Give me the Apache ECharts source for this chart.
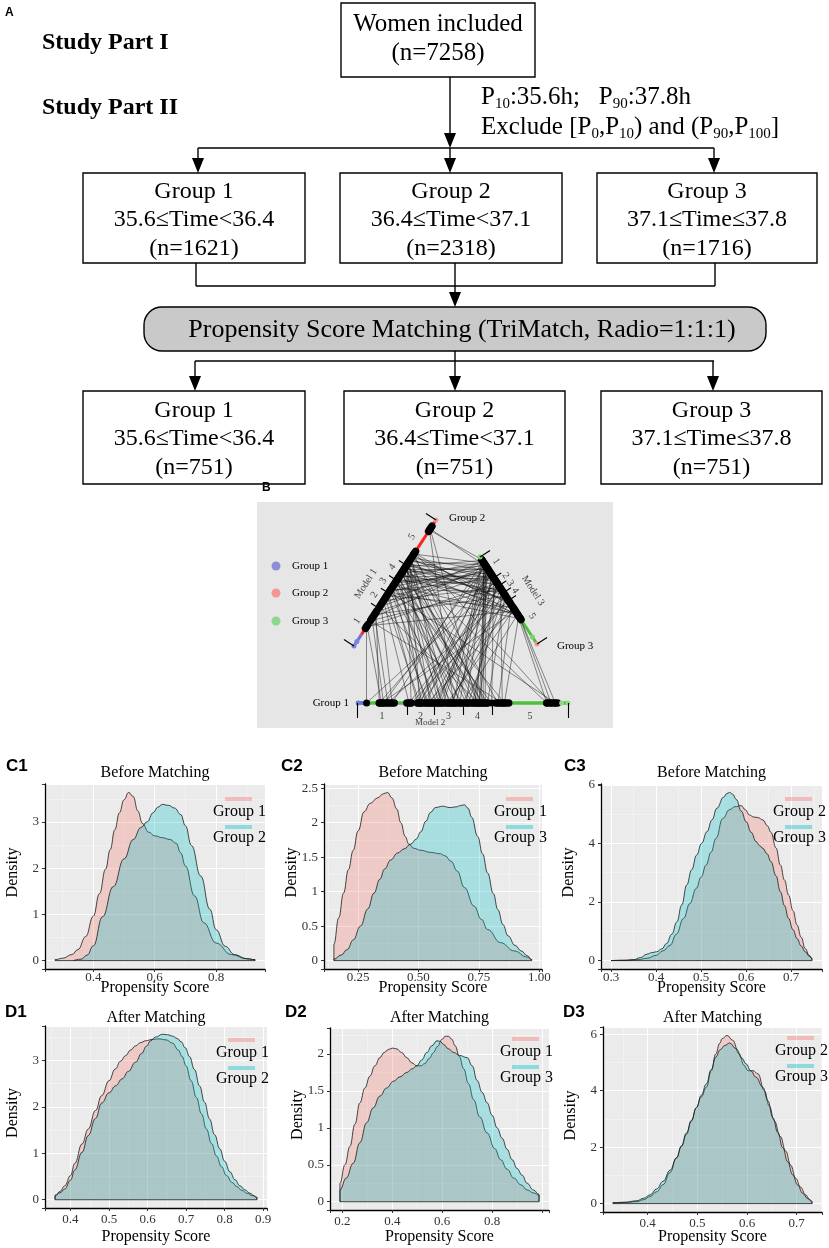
<!DOCTYPE html>
<html>
<head>
<meta charset="utf-8">
<title>Propensity score matching figure</title>
<script src="https://cdn.jsdelivr.net/npm/echarts@6/dist/echarts.min.js"></script>
<style>
html,body{margin:0;padding:0;background:#ffffff;}
#main{width:829px;height:1248px;}
</style>
</head>
<body>
<div id="main"></div>
<script>
// ================= DATA =================
// Panel A – flow chart
const flowTotal = 7258;
const flowGroups = ['Group 1', 'Group 2', 'Group 3'];
const flowTimeRanges = ['35.6≤Time<36.4', '36.4≤Time<37.1', '37.1≤Time≤37.8'];
const flowNBefore = [1621, 2318, 1716];
const flowNAfter = [751, 751, 751];
const flowMatching = 'Propensity Score Matching (TriMatch, Radio=1:1:1)';

// Panels C / D – density curves [propensity score, density]
const c1Group1 = [[0.275,0.02],[0.30,0.05],[0.33,0.13],[0.35,0.24],[0.375,0.52],[0.40,0.96],[0.42,1.45],[0.44,1.98],[0.455,2.4],[0.47,2.83],[0.485,3.2],[0.50,3.48],[0.515,3.64],[0.53,3.55],[0.545,3.24],[0.56,2.97],[0.58,2.78],[0.60,2.7],[0.625,2.66],[0.65,2.62],[0.67,2.54],[0.685,2.33],[0.70,2.05],[0.73,1.4],[0.76,0.82],[0.80,0.38],[0.85,0.13],[0.90,0.04],[0.927,0.02]];
const c1Group2 = [[0.335,0.01],[0.36,0.03],[0.38,0.12],[0.40,0.32],[0.43,0.95],[0.465,1.6],[0.50,2.2],[0.53,2.62],[0.555,2.88],[0.575,3.0],[0.595,3.2],[0.61,3.32],[0.625,3.38],[0.645,3.36],[0.665,3.3],[0.685,3.16],[0.70,2.92],[0.72,2.49],[0.75,1.83],[0.78,1.11],[0.80,0.67],[0.83,0.31],[0.86,0.13],[0.90,0.04],[0.927,0.02]];
const c2Group1 = [[0.15,0.24],[0.17,0.62],[0.19,0.98],[0.21,1.32],[0.23,1.6],[0.25,1.88],[0.275,2.16],[0.30,2.28],[0.33,2.36],[0.355,2.42],[0.372,2.44],[0.39,2.36],[0.41,2.2],[0.427,2.0],[0.445,1.8],[0.46,1.69],[0.48,1.63],[0.51,1.6],[0.55,1.57],[0.59,1.55],[0.61,1.52],[0.635,1.44],[0.66,1.3],[0.69,1.06],[0.73,0.79],[0.76,0.6],[0.786,0.45],[0.84,0.26],[0.896,0.14],[0.95,0.05],[0.97,0.01]];
const c2Group3 = [[0.15,0.02],[0.18,0.08],[0.205,0.16],[0.23,0.3],[0.26,0.5],[0.29,0.75],[0.316,0.98],[0.34,1.18],[0.36,1.33],[0.385,1.46],[0.413,1.56],[0.44,1.62],[0.468,1.69],[0.49,1.76],[0.51,1.87],[0.53,2.02],[0.55,2.15],[0.57,2.22],[0.60,2.24],[0.63,2.22],[0.655,2.23],[0.675,2.25],[0.69,2.26],[0.705,2.21],[0.72,2.08],[0.745,1.8],[0.765,1.55],[0.786,1.27],[0.81,0.97],[0.828,0.74],[0.85,0.52],[0.87,0.36],[0.90,0.22],[0.925,0.14],[0.95,0.07],[0.97,0.01]];
const c3Group2 = [[0.30,0.0],[0.33,0.01],[0.36,0.03],[0.38,0.08],[0.40,0.18],[0.415,0.33],[0.431,0.52],[0.445,0.9],[0.461,1.44],[0.475,1.95],[0.489,2.46],[0.50,2.85],[0.511,3.26],[0.522,3.7],[0.533,4.17],[0.548,4.85],[0.563,5.15],[0.575,5.25],[0.589,5.29],[0.598,5.15],[0.607,4.97],[0.617,4.9],[0.626,4.88],[0.637,4.8],[0.647,4.6],[0.655,4.38],[0.666,3.85],[0.676,3.26],[0.685,2.75],[0.694,2.24],[0.704,1.7],[0.713,1.21],[0.722,0.8],[0.731,0.41],[0.74,0.18],[0.746,0.07]];
const c3Group3 = [[0.30,0.0],[0.33,0.01],[0.35,0.03],[0.365,0.1],[0.38,0.22],[0.39,0.27],[0.401,0.3],[0.413,0.4],[0.423,0.58],[0.435,0.9],[0.446,1.32],[0.457,1.9],[0.468,2.58],[0.479,3.1],[0.49,3.6],[0.501,4.0],[0.513,4.4],[0.524,4.8],[0.535,5.2],[0.55,5.58],[0.557,5.7],[0.563,5.74],[0.57,5.68],[0.578,5.5],[0.589,5.1],[0.60,4.74],[0.611,4.38],[0.622,4.06],[0.63,3.92],[0.637,3.83],[0.646,3.65],[0.655,3.38],[0.666,2.9],[0.676,2.35],[0.685,1.88],[0.694,1.44],[0.704,1.05],[0.713,0.75],[0.722,0.5],[0.731,0.3],[0.74,0.15],[0.746,0.07]];
const d1Group1 = [[0.36,0.08],[0.373,0.18],[0.385,0.3],[0.40,0.52],[0.411,0.78],[0.43,1.2],[0.446,1.52],[0.465,1.92],[0.481,2.24],[0.50,2.56],[0.516,2.81],[0.53,2.98],[0.543,3.1],[0.556,3.22],[0.569,3.31],[0.582,3.38],[0.595,3.42],[0.613,3.45],[0.63,3.46],[0.648,3.44],[0.665,3.37],[0.68,3.22],[0.69,3.08],[0.70,2.88],[0.713,2.56],[0.727,2.2],[0.74,1.85],[0.753,1.52],[0.766,1.21],[0.779,0.94],[0.792,0.71],[0.805,0.52],[0.82,0.37],[0.832,0.28],[0.845,0.2],[0.858,0.14],[0.872,0.09],[0.884,0.05]];
const d1Group2 = [[0.36,0.1],[0.373,0.15],[0.385,0.23],[0.40,0.42],[0.411,0.64],[0.43,1.02],[0.446,1.38],[0.465,1.75],[0.481,2.08],[0.50,2.3],[0.517,2.45],[0.534,2.6],[0.55,2.76],[0.569,2.96],[0.585,3.15],[0.597,3.3],[0.608,3.42],[0.621,3.5],[0.639,3.56],[0.652,3.55],[0.665,3.52],[0.677,3.47],[0.687,3.4],[0.698,3.27],[0.709,3.08],[0.722,2.8],[0.735,2.45],[0.748,2.1],[0.761,1.74],[0.774,1.4],[0.788,1.09],[0.80,0.83],[0.814,0.6],[0.827,0.43],[0.84,0.3],[0.853,0.21],[0.866,0.14],[0.876,0.09],[0.884,0.05]];
const d2Group1 = [[0.19,0.25],[0.21,0.5],[0.23,0.75],[0.25,1.05],[0.27,1.34],[0.29,1.54],[0.31,1.7],[0.33,1.84],[0.35,1.95],[0.367,2.02],[0.384,2.06],[0.40,2.08],[0.417,2.07],[0.437,2.02],[0.458,1.95],[0.478,1.88],[0.498,1.84],[0.515,1.84],[0.53,1.87],[0.548,1.94],[0.565,2.02],[0.58,2.1],[0.60,2.2],[0.612,2.24],[0.625,2.24],[0.638,2.2],[0.652,2.11],[0.668,1.97],[0.686,1.8],[0.705,1.6],[0.726,1.38],[0.75,1.15],[0.78,0.93],[0.81,0.72],[0.834,0.57],[0.86,0.44],[0.887,0.32],[0.915,0.23],[0.94,0.16],[0.965,0.12],[0.988,0.09]];
const d2Group3 = [[0.19,0.16],[0.215,0.32],[0.243,0.52],[0.27,0.8],[0.297,1.07],[0.323,1.27],[0.35,1.43],[0.377,1.54],[0.404,1.63],[0.43,1.69],[0.458,1.75],[0.48,1.8],[0.498,1.84],[0.518,1.92],[0.538,2.02],[0.558,2.11],[0.579,2.18],[0.592,2.17],[0.605,2.13],[0.625,2.07],[0.646,2.02],[0.67,1.98],[0.70,1.95],[0.72,1.84],[0.74,1.64],[0.76,1.48],[0.78,1.34],[0.80,1.17],[0.82,1.0],[0.84,0.86],[0.86,0.71],[0.88,0.57],[0.90,0.45],[0.92,0.36],[0.94,0.25],[0.965,0.16],[0.988,0.1]];
const d3Group2 = [[0.33,0.03],[0.355,0.04],[0.378,0.07],[0.392,0.14],[0.405,0.25],[0.418,0.42],[0.431,0.67],[0.445,1.1],[0.458,1.62],[0.468,2.02],[0.478,2.45],[0.488,2.92],[0.498,3.4],[0.508,3.78],[0.518,4.12],[0.528,4.7],[0.537,5.3],[0.545,5.68],[0.55,5.85],[0.56,5.96],[0.571,5.79],[0.584,5.31],[0.594,4.9],[0.602,4.71],[0.612,4.71],[0.622,4.6],[0.635,4.0],[0.645,3.45],[0.655,2.93],[0.667,2.38],[0.678,1.86],[0.688,1.36],[0.698,0.9],[0.708,0.58],[0.718,0.31],[0.726,0.15],[0.731,0.07]];
const d3Group3 = [[0.33,0.03],[0.355,0.05],[0.378,0.1],[0.392,0.19],[0.405,0.31],[0.418,0.52],[0.431,0.79],[0.445,1.18],[0.458,1.62],[0.468,2.05],[0.478,2.5],[0.488,2.95],[0.498,3.4],[0.508,3.84],[0.518,4.24],[0.528,4.75],[0.537,5.19],[0.546,5.45],[0.555,5.6],[0.565,5.69],[0.578,5.49],[0.59,5.15],[0.598,4.95],[0.608,4.7],[0.618,4.48],[0.632,4.12],[0.642,3.65],[0.652,3.05],[0.662,2.52],[0.672,1.98],[0.682,1.48],[0.692,1.02],[0.702,0.66],[0.712,0.37],[0.722,0.18],[0.731,0.07]];

// Panel B – TriMatch plot: positions along Model 1 / Model 2 / Model 3 axes (0..1)
const tmTriplets = [
  [0.15,0.05,0.30],[0.16,0.12,0.62],[0.22,0.13,0.10],[0.25,0.15,0.45],[0.27,0.11,0.20],[0.33,0.17,0.05],
  [0.36,0.25,0.35],[0.38,0.30,0.15],[0.40,0.34,0.58],[0.42,0.29,0.08],[0.44,0.38,0.25],[0.45,0.45,0.40],
  [0.47,0.33,0.12],[0.48,0.50,0.66],[0.50,0.41,0.18],[0.51,0.55,0.30],[0.53,0.36,0.48],[0.54,0.60,0.06],
  [0.55,0.47,0.22],[0.56,0.31,0.38],[0.58,0.52,0.10],[0.59,0.43,0.60],[0.60,0.58,0.28],[0.61,0.39,0.14],
  [0.62,0.62,0.44],[0.63,0.49,0.04],[0.64,0.35,0.33],[0.65,0.56,0.20],[0.66,0.44,0.52],[0.67,0.61,0.09],
  [0.68,0.30,0.26],[0.69,0.53,0.42],[0.70,0.40,0.16],[0.72,0.67,0.55],[0.73,0.59,0.07],[0.74,0.92,0.70],
  [0.20,0.69,0.36],[0.57,0.70,0.68],[0.43,0.94,0.71],[0.31,0.58,0.13],[0.65,0.26,0.50],[0.52,0.64,0.24],
  [0.62,0.90,0.66],[0.93,0.57,0.11],[0.92,0.46,0.03]
];
const tmClustersM1 = [[0.14,0.17],[0.21,0.28],[0.32,0.70],[0.72,0.75],[0.91,0.95]];
const tmClustersM2 = [[0.05,0.05],[0.11,0.18],[0.24,0.26],[0.29,0.62],[0.66,0.72],[0.90,0.95]];
const tmClustersM3 = [[0.03,0.53],[0.57,0.72]];
const tmBreaksM1 = [0, 0.30, 0.42, 0.52, 0.64, 1];
const tmBreaksM2 = [0.005, 0.24, 0.368, 0.505, 0.642, 1];
const tmBreaksM3 = [0, 0.24, 0.33, 0.41, 0.50, 1];
const tmStrata = ['1', '2', '3', '4', '5'];
const tmGroups = ['Group 1', 'Group 2', 'Group 3'];

// ================= LAYOUT / STYLE =================
const SERIF = 'Liberation Serif';
const SANS = 'Liberation Sans';
const PINK_FILL = 'rgba(248,118,109,0.4)';
const CYAN_FILL = 'rgba(0,191,196,0.4)';
const OUTLINE = '#1a1a1a';

const densityPanels = [
  {tag:'C1', tagX:6,   row:'C', title:'Before Matching', curves:[c1Group1,c1Group2], names:['Group 1','Group 2'], xStep:0.2,  xDigits:1, yStep:1,   rect:[45,784,220,185],  legX:225, legY:799},
  {tag:'C2', tagX:281, row:'C', title:'Before Matching', curves:[c2Group1,c2Group3], names:['Group 1','Group 3'], xStep:0.25, xDigits:2, yStep:0.5, rect:[324,784,218,185], legX:506, legY:799},
  {tag:'C3', tagX:564, row:'C', title:'Before Matching', curves:[c3Group2,c3Group3], names:['Group 2','Group 3'], xStep:0.1,  xDigits:1, yStep:2,   rect:[601,784,221,185], legX:785, legY:799},
  {tag:'D1', tagX:5,   row:'D', title:'After Matching',  curves:[d1Group1,d1Group2], names:['Group 1','Group 2'], xStep:0.1,  xDigits:1, yStep:1,   rect:[45,1026,222,182], legX:228, legY:1040},
  {tag:'D2', tagX:285, row:'D', title:'After Matching',  curves:[d2Group1,d2Group3], names:['Group 1','Group 3'], xStep:0.2,  xDigits:1, yStep:0.5, rect:[330,1028,219,182], legX:512, legY:1039, xLabelMax:0.9},
  {tag:'D3', tagX:563, row:'D', title:'After Matching',  curves:[d3Group2,d3Group3], names:['Group 2','Group 3'], xStep:0.1,  xDigits:1, yStep:2,   rect:[603,1027,219,185], legX:787, legY:1038}
];
const rowY = {
  C: {tag:766, title:773, xName:988},
  D: {tag:1012, title:1018, xName:1237}
};

function limits(curves) {
  let xs = [], ys = [];
  curves.forEach(c => c.forEach(p => { xs.push(p[0]); ys.push(p[1]); }));
  const x0 = Math.min(...xs), x1 = Math.max(...xs), ym = Math.max(...ys);
  const dx = (x1 - x0) * 0.05;
  return {xmin: x0 - dx, xmax: x1 + dx, ymin: -0.05 * ym, ymax: ym * 1.05, x0: x0, x1: x1};
}
function isStep(v, step) { const r = v / step; return Math.abs(r - Math.round(r)) < 1e-6; }

const G = [];
function T(x, y, text, size, o) {
  o = o || {};
  const st = {text: text, fontSize: size, fontFamily: o.family || SERIF, fontWeight: o.weight || 'normal',
    fill: o.color || '#000', align: o.align || 'center', verticalAlign: 'middle',
    textAlign: o.align || 'center', textVerticalAlign: 'middle'};
  if (o.rich) st.rich = o.rich;
  return {type: 'text', x: x, y: y, rotation: o.rot || 0, z: 100, silent: true, style: st};
}
function L(x1, y1, x2, y2, w) {
  return {type: 'line', silent: true, z: 90, shape: {x1: x1, y1: y1, x2: x2, y2: y2}, style: {stroke: '#000', lineWidth: w || 1.4}};
}
function Arrow(x, tip) {
  return {type: 'polygon', silent: true, z: 91, shape: {points: [[x - 6, tip - 15], [x + 6, tip - 15], [x, tip]]}, style: {fill: '#000'}};
}
function Box(x, y, w, h, r, fill) {
  return {type: 'rect', silent: true, z: 90, shape: {x: x, y: y, width: w, height: h, r: r || 0}, style: {fill: fill || '#fff', stroke: '#000', lineWidth: 1.4}};
}

// ---------- Panel A ----------
G.push(T(5, 13, 'A', 12, {family: SANS, weight: 'bold', align: 'left'}));
G.push(T(42, 43, 'Study Part I', 24, {weight: 'bold', align: 'left'}));
G.push(T(42, 108, 'Study Part II', 24, {weight: 'bold', align: 'left'}));
G.push(Box(341, 3, 194, 74));
G.push(T(438, 24, 'Women included', 25));
G.push(T(438, 53, '(n=' + flowTotal + ')', 25));
G.push(L(450, 77, 450, 140)); G.push(Arrow(450, 148));
const RICH = {a: {fontFamily: SERIF, fontSize: 25, lineHeight: 30}, s: {fontFamily: SERIF, fontSize: 15, lineHeight: 14, verticalAlign: 'bottom'}};
G.push(T(481, 97, '{a|P}{s|10}{a|:35.6h;   P}{s|90}{a|:37.8h}', 25, {align: 'left', rich: RICH}));
G.push(T(481, 127, '{a|Exclude [P}{s|0}{a|,P}{s|10}{a|) and (P}{s|90}{a|,P}{s|100}{a|]}', 25, {align: 'left', rich: RICH}));
G.push(L(198, 148, 714, 148));
[198, 450, 714].forEach(x => { G.push(L(x, 148, x, 165)); G.push(Arrow(x, 173)); });
const row1Boxes = [[83, 222], [340, 222], [597, 220]];
row1Boxes.forEach((b, i) => {
  G.push(Box(b[0], 173, b[1], 90));
  const cx = b[0] + b[1] / 2;
  G.push(T(cx, 192, flowGroups[i], 24));
  G.push(T(cx, 220, flowTimeRanges[i], 24));
  G.push(T(cx, 249, '(n=' + flowNBefore[i] + ')', 24));
});
[196, 455, 715].forEach(x => G.push(L(x, 263, x, 286)));
G.push(L(196, 286, 715, 286));
G.push(L(455, 286, 455, 300)); G.push(Arrow(455, 307));
G.push(Box(144, 307, 622, 44, 18, '#c9c9c9'));
G.push(T(462, 330, flowMatching, 26));
G.push(L(455, 351, 455, 361));
G.push(L(195, 361, 714, 361));
[195, 455, 713].forEach(x => { G.push(L(x, 361, x, 380)); G.push(Arrow(x, 391)); });
const row2Boxes = [[83, 222], [344, 221], [601, 221]];
row2Boxes.forEach((b, i) => {
  G.push(Box(b[0], 391, b[1], 93));
  const cx = b[0] + b[1] / 2;
  G.push(T(cx, 411, flowGroups[i], 24));
  G.push(T(cx, 439, flowTimeRanges[i], 24));
  G.push(T(cx, 468, '(n=' + flowNAfter[i] + ')', 24));
});

// ---------- Density panels ----------
const grids = [], xAxes = [], yAxes = [], series = [];
densityPanels.forEach((p, i) => {
  const lim = limits(p.curves);
  const R = rowY[p.row];
  const [gx, gy, gw, gh] = p.rect;
  grids.push({left: gx, top: gy, width: gw, height: gh, show: true, backgroundColor: '#ebebeb', borderWidth: 0, containLabel: false});
  xAxes.push({
    type: 'value', gridIndex: i, min: lim.xmin, max: lim.xmax,
    minInterval: p.xStep, maxInterval: p.xStep,
    axisLine: {show: true, onZero: false, lineStyle: {color: '#000', width: 1.3}},
    axisTick: {show: true, length: 3, lineStyle: {color: '#333', width: 1}},
    axisLabel: {show: true, margin: p.row === 'C' ? 2 : 5, color: '#333', fontSize: 13, fontFamily: SERIF,
      formatter: v => (isStep(v, p.xStep) && (!p.xLabelMax || v <= p.xLabelMax)) ? v.toFixed(p.xDigits) : ''},
    splitLine: {show: true, lineStyle: {color: '#ffffff', width: 1.1}},
    minorTick: {show: false, splitNumber: 2},
    minorSplitLine: {show: true, lineStyle: {color: '#f7f7f7', width: 0.6}}
  });
  yAxes.push({
    type: 'value', gridIndex: i, min: lim.ymin, max: lim.ymax,
    minInterval: p.yStep, maxInterval: p.yStep,
    axisLine: {show: true, onZero: false, lineStyle: {color: '#000', width: 1.3}},
    axisTick: {show: true, length: 3, lineStyle: {color: '#333', width: 1}},
    axisLabel: {show: true, margin: 6, color: '#333', fontSize: 13, fontFamily: SERIF,
      formatter: v => isStep(v, p.yStep) ? String(+v.toFixed(2)) : ''},
    splitLine: {show: true, lineStyle: {color: '#ffffff', width: 1.1}},
    minorTick: {show: false, splitNumber: 2},
    minorSplitLine: {show: true, lineStyle: {color: '#f7f7f7', width: 0.6}}
  });
  p.curves.forEach((c, j) => {
    const data = [[c[0][0], 0]].concat(c).concat([[c[c.length - 1][0], 0]]);
    series.push({
      type: 'line', name: p.tag + ' ' + p.names[j], xAxisIndex: i, yAxisIndex: i, data: data,
      symbol: 'none', smooth: 0.45, smoothMonotone: 'x', silent: true, z: 2 + j,
      lineStyle: {color: OUTLINE, width: 0.8},
      areaStyle: {color: j === 0 ? PINK_FILL : CYAN_FILL}
    });
  });
  series.push({type: 'line', xAxisIndex: i, yAxisIndex: i, data: [[lim.x0, 0], [lim.x1, 0]], symbol: 'none', silent: true, z: 5,
    lineStyle: {color: OUTLINE, width: 0.8}});
  // texts
  G.push(T(p.tagX, R.tag, p.tag, 17, {family: SANS, weight: 'bold', align: 'left'}));
  G.push(T(gx + gw / 2, R.title, p.title, 16));
  G.push(T(gx + gw / 2, R.xName, 'Propensity Score', 16));
  G.push(T(gx - 32, gy + gh / 2 - 4, 'Density', 16, {rot: Math.PI / 2}));
  // legend
  G.push({type: 'rect', silent: true, z: 95, shape: {x: p.legX, y: p.legY - 2, width: 27, height: 4}, style: {fill: PINK_FILL}});
  G.push({type: 'rect', silent: true, z: 95, shape: {x: p.legX, y: p.legY + 26, width: 27, height: 4}, style: {fill: CYAN_FILL}});
  G.push(T(p.legX - 12, p.legY + 13, p.names[0], 16, {align: 'left'}));
  G.push(T(p.legX - 12, p.legY + 39, p.names[1], 16, {align: 'left'}));
});

// ---------- Panel B (TriMatch) ----------
const BI = densityPanels.length;
const BOX = {left: 257, top: 502, width: 356, height: 226};
grids.push({left: BOX.left, top: BOX.top, width: BOX.width, height: BOX.height, show: true, backgroundColor: '#e6e6e6', borderWidth: 0});
xAxes.push({type: 'value', gridIndex: BI, min: 0, max: BOX.width, show: false});
yAxes.push({type: 'value', gridIndex: BI, min: 0, max: BOX.height, inverse: true, show: false});
const axesGeom = {
  m1: {a: [97, 144], b: [179, 18], n: [-0.838, -0.546]},
  m2: {a: [99, 201], b: [311, 201], n: [0, 1]},
  m3: {a: [223, 55], b: [280, 142], n: [0.8365, -0.548]}
};
function at(ax, t, off) {
  const g = axesGeom[ax]; off = off || 0;
  return [g.a[0] + (g.b[0] - g.a[0]) * t + g.n[0] * off, g.a[1] + (g.b[1] - g.a[1]) * t + g.n[1] * off];
}
const bBase = {xAxisIndex: BI, yAxisIndex: BI, silent: true};
function linesSeries(data, z, extra) {
  return Object.assign({type: 'lines', coordinateSystem: 'cartesian2d', data: data, z: z, effect: {show: false}}, bBase, extra || {});
}
// coloured axes
series.push(linesSeries([
  {coords: [at('m1', 0.09), at('m1', 0.99)], lineStyle: {color: '#ff2020', width: 3, opacity: 1}},
  {coords: [at('m1', 0.0), at('m1', 0.09)], lineStyle: {color: '#7070e0', width: 3, opacity: 1}},
  {coords: [at('m3', 0.0), at('m3', 1.0)], lineStyle: {color: '#4fbf3f', width: 3, opacity: 1}},
  {coords: [at('m2', 0.0), at('m2', 1.0)], lineStyle: {color: '#4fbf3f', width: 3.5, opacity: 1}},
  {coords: [at('m2', 0.0), at('m2', 0.05)], lineStyle: {color: '#5d79d6', width: 3.5, opacity: 1}}
], 3));
// matching lines
const matchSegs = [];
tmTriplets.forEach(tr => {
  const p1 = at('m1', tr[0]), p2 = at('m2', tr[1]), p3 = at('m3', tr[2]);
  matchSegs.push({coords: [p1, p2]}, {coords: [p1, p3]}, {coords: [p3, p2]});
});
series.push(linesSeries(matchSegs, 4, {lineStyle: {color: '#111', width: 0.6, opacity: 0.8}}));
// matched clusters
const clusterSegs = [];
[['m1', tmClustersM1], ['m2', tmClustersM2], ['m3', tmClustersM3]].forEach(([ax, cl]) => {
  cl.forEach(c => clusterSegs.push({coords: [at(ax, c[0]), at(ax, c[1] + 0.0001)]}));
});
series.push(linesSeries(clusterSegs, 5, {lineStyle: {color: '#000', width: 7.5, opacity: 1, cap: 'round'}}));
// matched dots
const dotData = [];
tmTriplets.forEach(tr => { dotData.push(at('m1', tr[0]), at('m2', tr[1]), at('m3', tr[2])); });
series.push(Object.assign({type: 'scatter', data: dotData, symbolSize: 7, itemStyle: {color: '#000', opacity: 1}, z: 6}, bBase));
// unmatched end dots
const endDots = [
  ['m1', 0.0, '#8080e0'], ['m1', 0.035, '#8080e0'], ['m1', 1.0, '#f29a9a'],
  ['m3', 0.0, '#7fd06f'], ['m3', 0.92, '#7fd06f'], ['m3', 1.0, '#f29a9a'],
  ['m2', 0.97, '#8fd884'], ['m2', 1.0, '#8fd884'], ['m2', 0.01, '#6a7ee0']
];
series.push(Object.assign({type: 'scatter', symbolSize: 5, z: 6,
  data: endDots.map(d => ({value: at(d[0], d[1]), itemStyle: {color: d[2], opacity: 1}}))}, bBase));
// strata ticks
const tickSegs = [];
[['m1', tmBreaksM1, 9], ['m2', tmBreaksM2, 12], ['m3', tmBreaksM3, 9]].forEach(([ax, br, len]) => {
  br.forEach((t, k) => {
    const l = (k === 0 || k === br.length - 1) ? len + 3 : len;
    tickSegs.push({coords: [at(ax, t, 0), at(ax, t, l)]});
  });
});
series.push(linesSeries(tickSegs, 7, {lineStyle: {color: '#000', width: 1.1, opacity: 1}}));
// strata labels + model names
const labelData = [];
const rotDeg = {m1: 57, m2: 0, m3: -57};
[['m1', tmBreaksM1, 11], ['m2', tmBreaksM2, 13], ['m3', tmBreaksM3, 11]].forEach(([ax, br, off]) => {
  for (let k = 0; k < tmStrata.length; k++) {
    const mid = (br[k] + br[k + 1]) / 2;
    labelData.push({value: at(ax, mid, off), name: tmStrata[k], label: {rotate: rotDeg[ax]}});
  }
});
labelData.push({value: at('m1', 0.39, 24), name: 'Model 1', label: {rotate: 57}});
labelData.push({value: at('m3', 0.55, 26), name: 'Model 3', label: {rotate: -57}});
labelData.push({value: at('m2', 0.35, 20), name: 'Model 2', label: {rotate: 0, fontSize: 9}});
series.push(Object.assign({type: 'scatter', symbolSize: 0, z: 8, data: labelData,
  label: {show: true, position: 'inside', formatter: '{b}', fontFamily: SERIF, fontSize: 10, color: '#111'}}, bBase));

// B texts & legend
G.push(T(262, 488, 'B', 12, {family: SANS, weight: 'bold', align: 'left'}));
G.push(T(449, 518, tmGroups[1], 11, {align: 'left'}));
G.push(T(557, 646, tmGroups[2], 11, {align: 'left'}));
G.push(T(349, 703, tmGroups[0], 11, {align: 'right'}));
const bLegendColors = ['#8d8dd8', '#f29696', '#8ed68e'];
[566, 593, 621].forEach((y, i) => {
  G.push({type: 'circle', silent: true, z: 95, shape: {cx: 276, cy: y, r: 4.5}, style: {fill: bLegendColors[i]}});
  G.push(T(292, y, tmGroups[i], 11, {align: 'left'}));
});

const option = {
  animation: false,
  backgroundColor: '#ffffff',
  grid: grids,
  xAxis: xAxes,
  yAxis: yAxes,
  series: series,
  graphic: {elements: G}
};
const chart = echarts.init(document.getElementById('main'), null, {renderer: 'canvas', width: 829, height: 1248});
chart.setOption(option);
</script>
</body>
</html>
